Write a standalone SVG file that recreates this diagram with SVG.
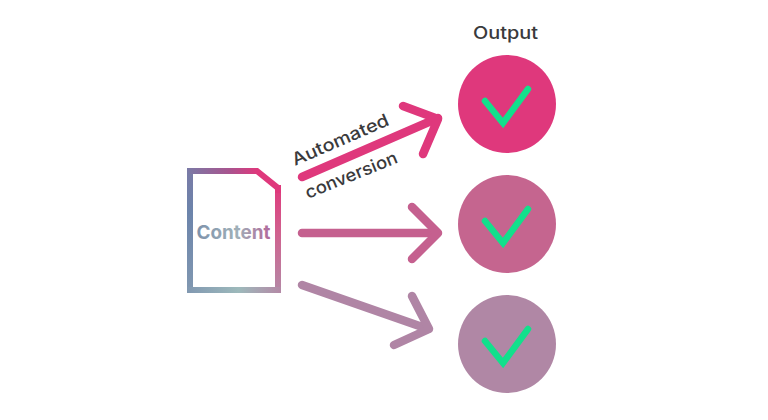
<svg xmlns="http://www.w3.org/2000/svg" width="768" height="420" viewBox="0 0 768 420">
<style>
.lbl{font-family:"Inter","Open Sans","Liberation Sans",sans-serif;font-weight:500;fill:#3a3a3c}
.arrow{fill:none;stroke-width:8.500;stroke-linecap:round;stroke-linejoin:round}
.check{fill:none;stroke:#12e08c;stroke-width:6.500;stroke-linecap:round;stroke-linejoin:miter}
.side{fill:none;stroke-width:6;stroke-linecap:square;stroke-linejoin:miter}
</style>
<defs>
<linearGradient id="docTop" gradientUnits="userSpaceOnUse" x1="187" y1="0" x2="281" y2="0">
<stop offset="0" stop-color="#7a7aa6"/>
<stop offset="0.45" stop-color="#a8548f"/>
<stop offset="0.75" stop-color="#df387c"/>
<stop offset="1" stop-color="#df387c"/>
</linearGradient>
<linearGradient id="docLeft" gradientUnits="userSpaceOnUse" x1="0" y1="168" x2="0" y2="293">
<stop offset="0" stop-color="#7a7aa6"/>
<stop offset="0.35" stop-color="#6c84ab"/>
<stop offset="1" stop-color="#8198b1"/>
</linearGradient>
<linearGradient id="docRight" gradientUnits="userSpaceOnUse" x1="0" y1="185" x2="0" y2="293">
<stop offset="0" stop-color="#df387c"/>
<stop offset="0.45" stop-color="#d0628f"/>
<stop offset="1" stop-color="#b489a6"/>
</linearGradient>
<linearGradient id="docBottom" gradientUnits="userSpaceOnUse" x1="187" y1="0" x2="281" y2="0">
<stop offset="0" stop-color="#8198b1"/>
<stop offset="0.55" stop-color="#9db9bb"/>
<stop offset="1" stop-color="#b489a6"/>
</linearGradient>
<linearGradient id="contentFill" gradientUnits="userSpaceOnUse" x1="197" y1="233" x2="270" y2="233">
<stop offset="0" stop-color="#7f93ac"/>
<stop offset="0.55" stop-color="#9fb0b8"/>
<stop offset="1" stop-color="#b2699a"/>
</linearGradient>
</defs>
<rect width="768" height="420" fill="#ffffff"/>
<g id="connectors">
<g id="arrow-1" stroke="#df387c" class="arrow"><path d="M302 177L438 118"/><path d="M403 106L438 119L423 154"/></g>
<g id="arrow-2" stroke="#c5608f" class="arrow"><path d="M302 233L437 233"/><path d="M412 207L438 233L412 259"/></g>
<g id="arrow-3" stroke="#b085a5" class="arrow"><path d="M302 285L428 329"/><path d="M412 296L429 329L394 345"/></g>
</g>
<g id="content-node">
<path class="side" d="M190 290V171" stroke="url(#docLeft)"/>
<path class="side" d="M278 188V290" stroke="url(#docRight)"/>
<path class="side" d="M190 290H278" stroke="url(#docBottom)"/>
<path d="M187 168H258L281 186.500V193H275V189.500L256 174H190Z" fill="url(#docTop)"/>
<text x="233.500" y="239" text-anchor="middle" font-size="19" font-weight="700" textLength="74" lengthAdjust="spacingAndGlyphs" style="font-family:Inter,'Open Sans','Liberation Sans',sans-serif" fill="url(#contentFill)">Content</text>
</g>
<text id="label-automated" class="lbl" font-size="17.500" textLength="104" lengthAdjust="spacingAndGlyphs" transform="translate(295 166) rotate(-23.500)">Automated</text>
<text id="label-conversion" class="lbl" font-size="17.500" textLength="98" lengthAdjust="spacingAndGlyphs" transform="translate(308 199) rotate(-22)">conversion</text>
<text id="label-output" class="lbl" x="505.500" y="39" text-anchor="middle" font-size="17.500" textLength="65" lengthAdjust="spacingAndGlyphs">Output</text>
<g id="output-1"><circle cx="507" cy="104" r="49" fill="#df387c"/><path class="check" d="M485 101L503 123L528 89"/></g>
<g id="output-2"><circle cx="507" cy="224" r="49" fill="#c5658f"/><path class="check" d="M485 221L503 243L528 209"/></g>
<g id="output-3"><circle cx="507" cy="344" r="49" fill="#b087a5"/><path class="check" d="M485 341L503 363L528 329"/></g>
</svg>
